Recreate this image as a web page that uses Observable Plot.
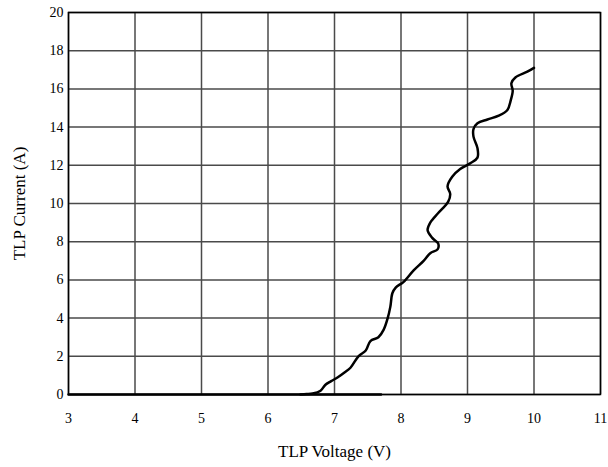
<!DOCTYPE html>
<html>
<head>
<meta charset="utf-8">
<script src="https://cdn.jsdelivr.net/npm/d3@7"></script>
<script src="https://cdn.jsdelivr.net/npm/@observablehq/plot@0.6"></script>
<style>
  html, body { margin: 0; padding: 0; background: #fff; }
  #chart svg { display: block; }
  g[aria-label="x-axis label"] text, g[aria-label="y-axis label"] text { font-size: 17px; }
</style>
</head>
<body>
<div id="chart"></div>
<script>
// Tick labels
const xTicks = [3, 4, 5, 6, 7, 8, 9, 10, 11];
const yTicks = [0, 2, 4, 6, 8, 10, 12, 14, 16, 18, 20];

// Flat baseline trace (0 A)
const baseVoltage = [3.0, 7.7];
const baseCurrent = [0, 0];

// TLP I-V curve
const voltage = [6.49, 6.58, 6.67, 6.79, 6.86, 6.95, 7.05, 7.15, 7.24, 7.36, 7.47, 7.54, 7.66, 7.74, 7.80, 7.84, 7.87, 7.92, 8.04, 8.19, 8.34, 8.44, 8.55, 8.56, 8.47, 8.40, 8.44, 8.56, 8.71, 8.74, 8.70, 8.77, 8.89, 9.04, 9.15, 9.15, 9.09, 9.09, 9.15, 9.30, 9.47, 9.60, 9.65, 9.68, 9.66, 9.72, 9.90, 10.0];
const current = [0.0, 0.02, 0.05, 0.2, 0.5, 0.7, 0.9, 1.15, 1.4, 2.0, 2.3, 2.8, 3.0, 3.4, 4.0, 4.6, 5.3, 5.6, 5.9, 6.5, 7.0, 7.4, 7.6, 7.9, 8.2, 8.6, 9.0, 9.5, 10.1, 10.5, 10.9, 11.4, 11.8, 12.1, 12.4, 12.9, 13.5, 13.9, 14.2, 14.4, 14.6, 14.9, 15.4, 15.9, 16.3, 16.6, 16.9, 17.1];

const curve = voltage.map((v, i) => ({v, i: current[i]}));
const base = baseVoltage.map((v, i) => ({v, i: baseCurrent[i]}));

const chart = Plot.plot({
  width: 608,
  height: 467,
  marginLeft: 68,
  marginRight: 8,
  marginTop: 12,
  marginBottom: 73,
  style: {fontFamily: "'Liberation Serif', 'Times New Roman', serif", fontSize: "14px", color: "#000", background: "#fff"},
  x: {domain: [3, 11]},
  y: {domain: [0, 20]},
  marks: [
    Plot.ruleX(xTicks, {stroke: "#4a4a4a", strokeWidth: 1.5, strokeOpacity: 1}),
    Plot.ruleY(yTicks, {stroke: "#4a4a4a", strokeWidth: 1.5, strokeOpacity: 1}),
    Plot.frame({stroke: "#000", strokeWidth: 1.5}),
    Plot.line(base, {x: "v", y: "i", stroke: "#000", strokeWidth: 2.5}),
    Plot.line(curve, {x: "v", y: "i", stroke: "#000", strokeWidth: 2.5, curve: "catmull-rom"}),
    Plot.axisX({ticks: xTicks, tickSize: 0, tickPadding: 19, tickFormat: d => String(d),
      label: "TLP Voltage (V)", labelAnchor: "center", labelOffset: 62, labelArrow: false}),
    Plot.axisY({ticks: yTicks, tickSize: 0, tickPadding: 5, tickFormat: d => String(d),
      label: "TLP Current (A)", labelAnchor: "center", labelOffset: 56, labelArrow: false})
  ]
});
document.getElementById("chart").appendChild(chart);
</script>
</body>
</html>
